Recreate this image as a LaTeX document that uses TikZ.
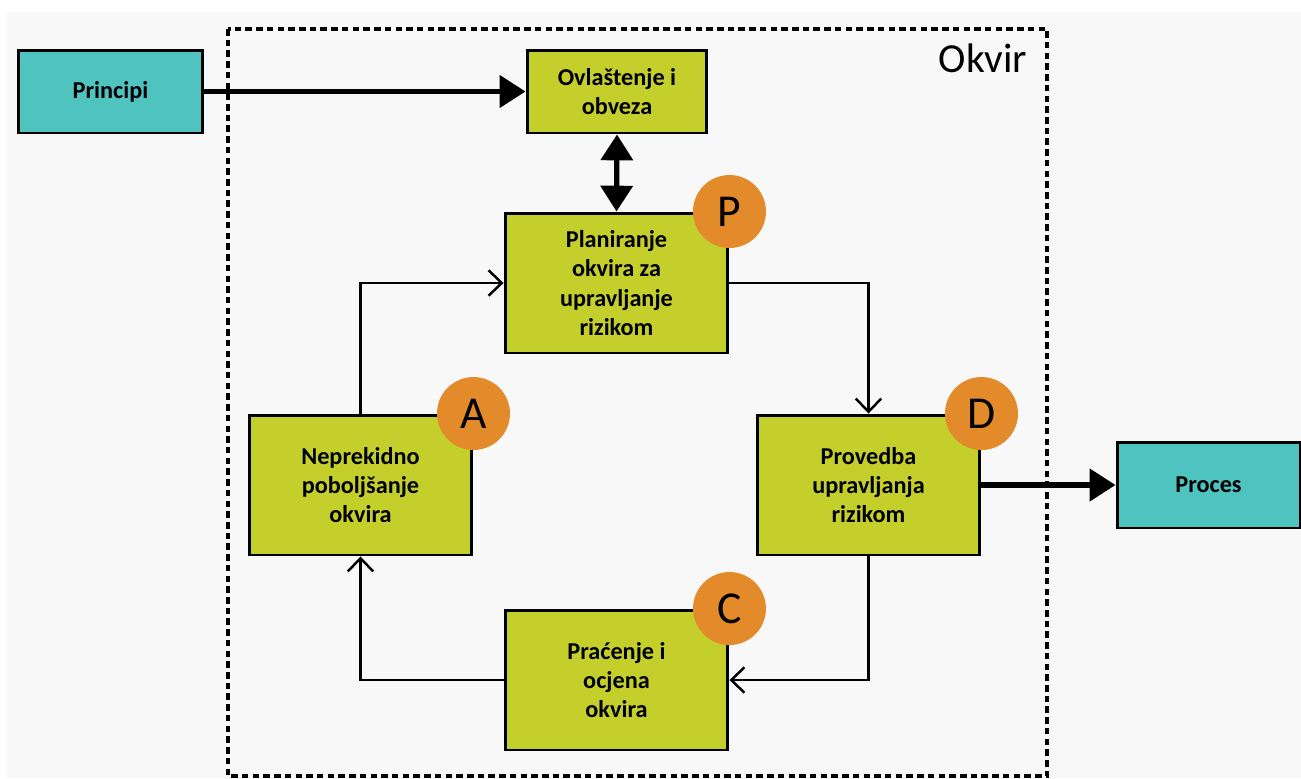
\documentclass[tikz,border=0pt]{standalone}
\usepackage{fontspec}
\setmainfont{Carlito}
\usepackage{xcolor}
\usepackage{tikz}
\usetikzlibrary{arrows.meta}
\usetikzlibrary{positioning}

\definecolor{bgGray}{HTML}{F8F8F8}
\definecolor{tealBox}{HTML}{4FC3C0}
\definecolor{limeBox}{HTML}{C5CF2C}
\definecolor{orangeDot}{HTML}{E38A2A}

\tikzset{
	boxtext/.style={font=\bfseries\fontsize{13.8}{16.6}\selectfont,align=center,inner sep=0pt},
	limebox/.style={boxtext,draw=black,line width=1.7pt,fill=limeBox},
	tealbox/.style={boxtext,draw=black,line width=1.7pt,fill=tealBox},
	letter/.style={circle,fill=orangeDot,minimum size=1.46cm,inner sep=0pt,font=\fontsize{26}{28}\selectfont},
	thin/.style={line width=1.4pt,-{Straight Barb[length=7.5pt,width=14.5pt]}},
	thickarr/.style={line width=3pt,-{Triangle[length=14.7pt,width=18pt]}}
}

\begin{document}
\begin{tikzpicture}[x=0.02cm,y=-0.02cm]
	\useasboundingbox (0,0) rectangle (1301,778);
	\fill[bgGray] (7,12) rectangle (1301,778);
	% okvir
	\draw[line width=1.9pt,dash pattern=on 3.7pt off 2.4pt] (228,29) rectangle (1047,776);
	\node (okvir) at (983,58) {\fontsize{23.5}{26}\selectfont Okvir};
	% boxes
	\node[tealbox,minimum width=3.7cm,minimum height=1.66cm] (princ) at (110.5,91.5) {Principi};
	\node[limebox,minimum width=3.6cm,minimum height=1.66cm] (ovl) at (617,91.5) {Ovlaštenje i\\obveza};
	\node[limebox,minimum width=4.46cm,minimum height=2.8cm] (plan) at (616.5,283) {Planiranje\\okvira za\\upravljanje\\rizikom};
	\node[limebox,minimum width=4.46cm,minimum height=2.8cm] (nep) at (360.5,485) {Neprekidno\\poboljšanje\\okvira};
	\node[limebox,minimum width=4.46cm,minimum height=2.8cm] (prov) at (868.5,485) {Provedba\\upravljanja\\rizikom};
	\node[limebox,minimum width=4.46cm,minimum height=2.8cm] (prac) at (616.5,680) {Praćenje i\\ocjena\\okvira};
	\node[tealbox,minimum width=3.66cm,minimum height=1.72cm] (proces) at (1208.5,485) {Proces};
	% arrows
	\draw[thickarr] (princ.east) -- (ovl.west);
	\draw[line width=3pt,{Triangle[length=14.7pt,width=18pt]}-{Triangle[length=14.7pt,width=18pt]}] (ovl.south) -- (plan.north);
	\draw[thickarr] (prov.east) -- (proces.west);
	\draw[thin] (nep.north) |- (plan.west);
	\draw[thin] (plan.east) -| (prov.north);
	\draw[thin] (prov.south) |- (prac.east);
	\draw[thin] (prac.west) -| (nep.south);
	% PDCA
	\node[letter] (lp) at (plan.north east) {P};
	\node[letter] (la) at (nep.north east) {A};
	\node[letter] (ld) at (prov.north east) {D};
	\node[letter] (lc) at (prac.north east) {C};
\end{tikzpicture}
\end{document}
